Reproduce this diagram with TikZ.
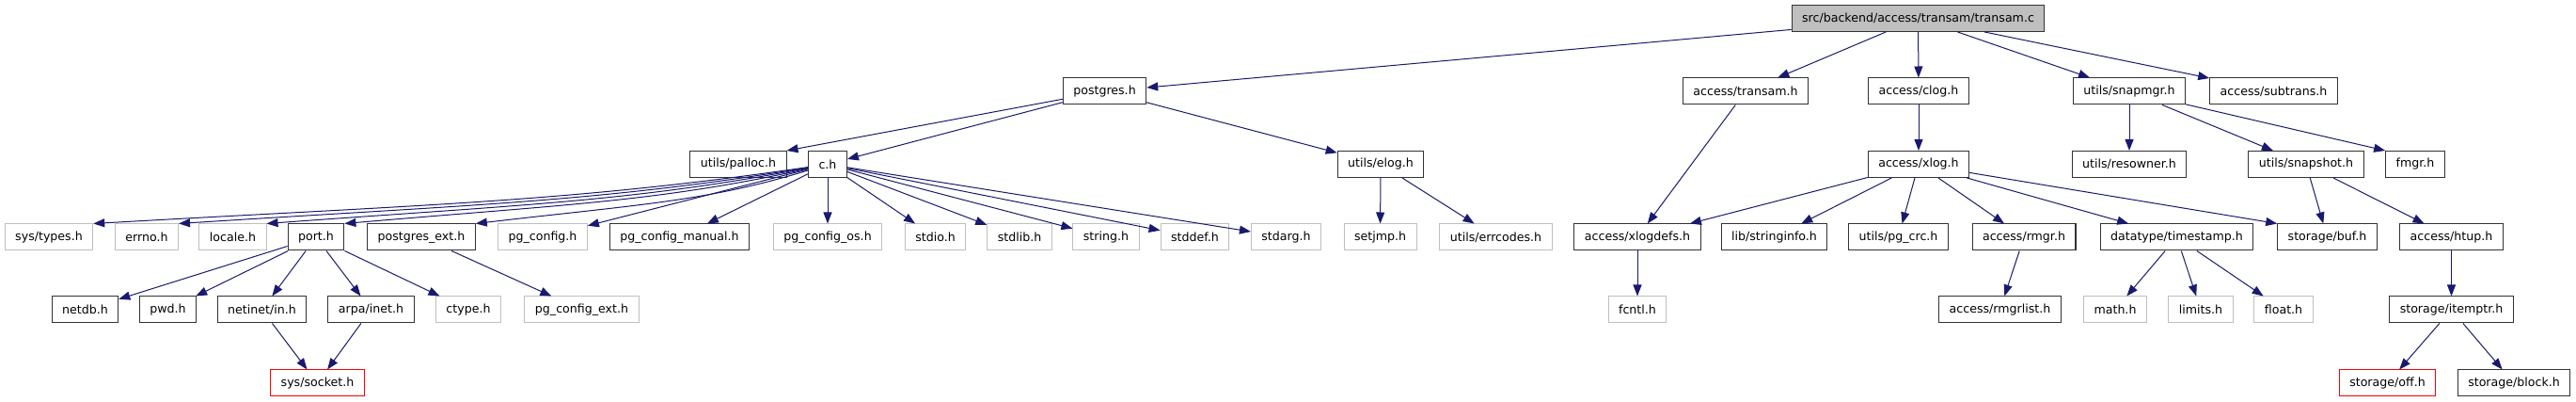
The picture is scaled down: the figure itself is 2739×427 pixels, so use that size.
\documentclass[tikz,border=0pt]{standalone}
\usepackage{fontspec}
\setmainfont{DejaVu Sans}
\usepackage{tikz}
\usetikzlibrary{arrows.meta}
\definecolor{edgeblue}{HTML}{191970}
\definecolor{sysgray}{HTML}{BFBFBF}

\begin{document}
\begin{tikzpicture}[
x=1pt, y=1pt,
hdr/.style={
rectangle,
draw=black!80,
line width=1pt,
minimum height=28pt,
inner xsep=11pt,
font=\fontsize{12.6}{14}\selectfont
},
syshdr/.style={hdr, draw=sysgray},
missing/.style={hdr, draw=red},
root/.style={hdr, fill=sysgray},
inc/.style={
-{Triangle[length=12pt,width=9pt]},
color=edgeblue,
line width=1pt
}
]
\useasboundingbox (0,0) rectangle (2739,427);

\node (root) [root] at (2039.5,407.5) {src/backend/access/transam/transam.c};

\node (pg) [hdr] at (1174.5,330) {postgres.h};
\node (transamh) [hdr] at (1856,330) {access/transam.h};
\node (clog) [hdr] at (2040,330) {access/clog.h};
\node (snapmgr) [hdr] at (2264,330) {utils/snapmgr.h};
\node (subtrans) [hdr] at (2417.5,330) {access/subtrans.h};

\node (palloc) [hdr] at (785,252.5) {utils/palloc.h};
\node (ch) [hdr] at (880,252.5) {c.h};
\node (elog) [hdr] at (1468,252.5) {utils/elog.h};
\node (xlog) [hdr] at (2040,252.5) {access/xlog.h};
\node (resowner) [hdr] at (2264,252.5) {utils/resowner.h};
\node (snapshot) [hdr] at (2452,252.5) {utils/snapshot.h};
\node (fmgr) [hdr] at (2568,252.5) {fmgr.h};

\node (types) [syshdr] at (52,175) {sys/types.h};
\node (errno) [syshdr] at (156,175) {errno.h};
\node (locale) [syshdr] at (247.5,175) {locale.h};
\node (port) [hdr] at (336,175) {port.h};
\node (pgext) [hdr] at (448,175) {postgres\_ext.h};
\node (pgconfig) [syshdr] at (577,175) {pg\_config.h};
\node (pgmanual) [hdr] at (722.5,175) {pg\_config\_manual.h};
\node (pgos) [syshdr] at (880,175) {pg\_config\_os.h};
\node (stdio) [syshdr] at (994.5,175) {stdio.h};
\node (stdlib) [syshdr] at (1084,175) {stdlib.h};
\node (string) [syshdr] at (1176,175) {string.h};
\node (stddef) [syshdr] at (1270.5,175) {stddef.h};
\node (stdarg) [syshdr] at (1367.5,175) {stdarg.h};
\node (setjmp) [syshdr] at (1467.5,175) {setjmp.h};
\node (errcodes) [syshdr] at (1590.5,175) {utils/errcodes.h};
\node (xlogdefs) [hdr] at (1741,175) {access/xlogdefs.h};
\node (stringinfo) [hdr] at (1886.5,175) {lib/stringinfo.h};
\node (pgcrc) [hdr] at (2018.5,175) {utils/pg\_crc.h};
\node (rmgr) [hdr] at (2152,175) {access/rmgr.h};
\node (timestamp) [hdr] at (2314.5,175) {datatype/timestamp.h};
\node (buf) [hdr] at (2474.5,175) {storage/buf.h};
\node (htup) [hdr] at (2606.5,175) {access/htup.h};

\node (netdb) [hdr] at (90.5,98) {netdb.h};
\node (pwd) [hdr] at (178.5,98) {pwd.h};
\node (netinet) [hdr] at (278.5,98) {netinet/in.h};
\node (arpa) [hdr] at (394.5,98) {arpa/inet.h};
\node (ctype) [syshdr] at (498,98) {ctype.h};
\node (pgcfgext) [syshdr] at (618.5,98) {pg\_config\_ext.h};
\node (fcntl) [syshdr] at (1741,98) {fcntl.h};
\node (rmgrlist) [hdr] at (2126.5,98) {access/rmgrlist.h};
\node (math) [syshdr] at (2249,98) {math.h};
\node (limits) [syshdr] at (2340,98) {limits.h};
\node (float) [syshdr] at (2428,98) {float.h};
\node (itemptr) [hdr] at (2606.5,98) {storage/itemptr.h};

\node (socket) [missing] at (337.5,20) {sys/socket.h};
\node (off) [missing] at (2538.5,20) {storage/off.h};
\node (block) [hdr] at (2673,20) {storage/block.h};

\draw [inc] (root) -- (pg);
\draw [inc] (root) -- (transamh);
\draw [inc] (root) -- (clog);
\draw [inc] (root) -- (snapmgr);
\draw [inc] (root) -- (subtrans);

\draw [inc] (pg) -- (palloc.north east);
\draw [inc] (pg) -- (ch);
\draw [inc] (pg) -- (elog);

\draw [inc] (ch) .. controls +(-273,-40) and +(351,20) .. (types.north east);
\draw [inc] (ch) .. controls +(-240,-40) and +(310,20) .. (errno.north east);
\draw [inc] (ch) .. controls +(-210,-40) and +(270,20) .. (locale.north east);
\draw [inc] (ch) .. controls +(-180,-40) and +(230,20) .. (port.north east);
\draw [inc] (ch) .. controls +(-130,-40) and +(170,20) .. (pgext.north east);
\draw [inc] (ch) -- (pgconfig);
\draw [inc] (ch) -- (pgmanual);
\draw [inc] (ch) -- (pgos);
\draw [inc] (ch) -- (stdio);
\draw [inc] (ch) -- (stdlib);
\draw [inc] (ch) -- (string);
\draw [inc] (ch) -- (stddef);
\draw [inc] (ch) -- (stdarg);

\draw [inc] (port) -- (netdb);
\draw [inc] (port) -- (pwd);
\draw [inc] (port) -- (netinet);
\draw [inc] (port) -- (arpa);
\draw [inc] (port) -- (ctype);
\draw [inc] (netinet) -- (socket);
\draw [inc] (arpa) -- (socket);
\draw [inc] (pgext) -- (pgcfgext);

\draw [inc] (elog) -- (setjmp);
\draw [inc] (elog) -- (errcodes);

\draw [inc] (transamh) -- (xlogdefs);
\draw [inc] (clog) -- (xlog);
\draw [inc] (xlog) -- (xlogdefs);
\draw [inc] (xlog) -- (stringinfo);
\draw [inc] (xlog) -- (pgcrc);
\draw [inc] (xlog) -- (rmgr);
\draw [inc] (xlog) -- (timestamp);
\draw [inc] (xlog) -- (buf.north west);
\draw [inc] (xlogdefs) -- (fcntl);
\draw [inc] (rmgr) -- (rmgrlist);
\draw [inc] (timestamp) -- (math);
\draw [inc] (timestamp) -- (limits);
\draw [inc] (timestamp) -- (float);

\draw [inc] (snapmgr) -- (resowner);
\draw [inc] (snapmgr) -- (snapshot);
\draw [inc] (snapmgr) -- (fmgr.north west);
\draw [inc] (snapshot) -- (buf);
\draw [inc] (snapshot) -- (htup);
\draw [inc] (htup) -- (itemptr);
\draw [inc] (itemptr) -- (off);
\draw [inc] (itemptr) -- (block);

\end{tikzpicture}
\end{document}
